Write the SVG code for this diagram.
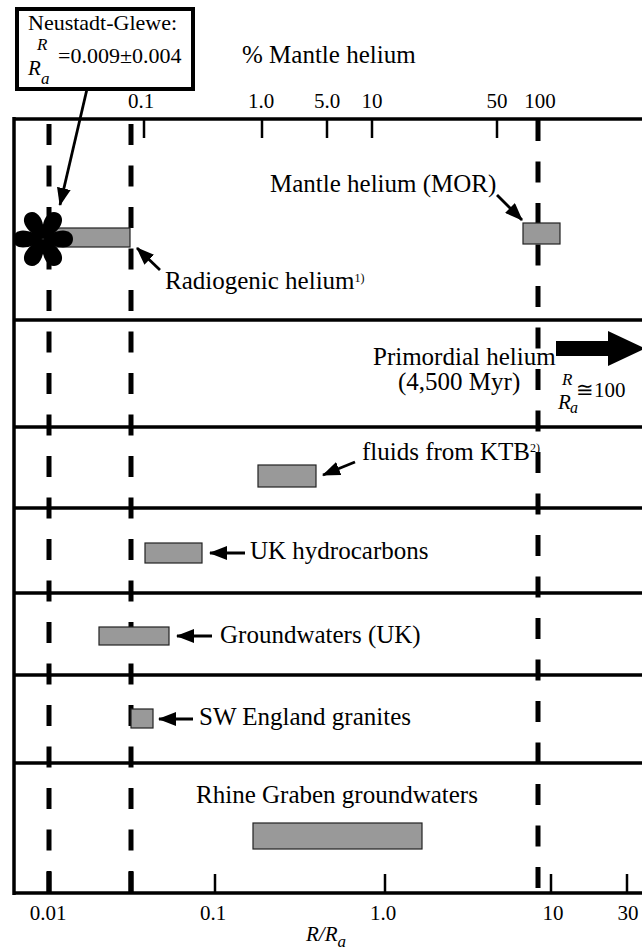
<svg xmlns="http://www.w3.org/2000/svg" width="642" height="951" viewBox="0 0 642 951" font-family="Liberation Serif, Times New Roman, DejaVu Serif, serif">
<style>
text{font-family:'Liberation Serif','DejaVu Serif',serif;fill:#000}
.lbl{font-size:25px}
.tk{font-size:21px;text-anchor:middle}
.it{font-style:italic}
.row{stroke:#000;stroke-width:3.5}
.tick{stroke:#000;stroke-width:2.5}
.dash{stroke:#000;stroke-width:5;stroke-dasharray:21 20.5;fill:none}
.bar{fill:#999;stroke:#222;stroke-width:1.2}
.arr{stroke:#000;stroke-width:2.8;fill:none;marker-end:url(#ah)}
</style>
<defs>
<marker id="ah" markerUnits="userSpaceOnUse" markerWidth="18" markerHeight="14" refX="17" refY="7" orient="auto">
<path d="M0,0 L18,7 L0,14 z" fill="#000"/>
</marker>
<path id="petal" d="M0,0 C6,-5 13,-8.5 20,-8.5 C26,-8.5 30,-5 30,0 C30,5 26,8.5 20,8.5 C13,8.5 6,5 0,0 Z" fill="#000"/>
</defs>

<g id="axes">
<line class="row" x1="14" y1="119" x2="642" y2="119"/>
<line class="row" x1="14" y1="893" x2="642" y2="893"/>
<line class="row" x1="14" y1="117" x2="14" y2="895"/>
<line class="tick" x1="144" y1="119" x2="144" y2="138"/>
<line class="tick" x1="262" y1="119" x2="262" y2="138"/>
<line class="tick" x1="327" y1="119" x2="327" y2="138"/>
<line class="tick" x1="372" y1="119" x2="372" y2="138"/>
<line class="tick" x1="497" y1="119" x2="497" y2="138"/>
<line class="tick" x1="215" y1="893" x2="215" y2="874"/>
<line class="tick" x1="385" y1="893" x2="385" y2="874"/>
<line class="tick" x1="551" y1="893" x2="551" y2="874"/>
<line class="tick" x1="627" y1="893" x2="627" y2="874"/>
<line stroke="#000" stroke-width="5" x1="49" y1="893" x2="49" y2="872"/>
<line stroke="#000" stroke-width="5" x1="131" y1="893" x2="131" y2="872"/>
<text x="242" y="63" style="font-size:25px">% Mantle helium</text>
<text class="tk" x="141" y="108">0.1</text>
<text class="tk" x="261" y="108">1.0</text>
<text class="tk" x="327" y="108">5.0</text>
<text class="tk" x="372" y="108">10</text>
<text class="tk" x="497" y="108">50</text>
<text class="tk" x="540" y="108">100</text>
<text class="tk" x="48" y="920">0.01</text>
<text class="tk" x="213" y="920">0.1</text>
<text class="tk" x="383" y="920">1.0</text>
<text class="tk" x="553" y="920">10</text>
<text class="tk" x="628" y="920">30</text>
<text class="it" x="306" y="941" style="font-size:21px">R/R<tspan dy="6" style="font-size:17px">a</tspan></text>
</g>

<g id="rows">
<line class="row" x1="14" y1="320" x2="642" y2="320"/>
<line class="row" x1="14" y1="427" x2="642" y2="427"/>
<line class="row" x1="14" y1="508" x2="642" y2="508"/>
<line class="row" x1="14" y1="593" x2="642" y2="593"/>
<line class="row" x1="14" y1="675" x2="642" y2="675"/>
<line class="row" x1="14" y1="763" x2="642" y2="763"/>
</g>

<g id="guides">
<line class="dash" x1="49" y1="124" x2="49" y2="893"/>
<line class="dash" x1="131" y1="124" x2="131" y2="893"/>
<line class="dash" x1="538" y1="120" x2="538" y2="893"/>
</g>

<g id="radiogenic">
<rect class="bar" x="45" y="228" width="85" height="19"/>
<text class="lbl" x="165" y="289">Radiogenic helium<tspan dy="-7" style="font-size:12px">1)</tspan></text>
</g>

<g id="neustadt">
<rect x="17" y="9" width="176" height="80" fill="#fff" stroke="#000" stroke-width="4"/>
<text x="28" y="30" style="font-size:22px">Neustadt-Glewe:</text>
<text class="it" x="37" y="50" style="font-size:17px">R</text>
<text class="it" x="28" y="75" style="font-size:21px">R</text>
<text class="it" x="41" y="84" style="font-size:17px">a</text>
<text x="58" y="63" style="font-size:22px">=0.009±0.004</text>
<g transform="translate(43,239)">
<use href="#petal"/>
<use href="#petal" transform="rotate(60)"/>
<use href="#petal" transform="rotate(120)"/>
<use href="#petal" transform="rotate(180)"/>
<use href="#petal" transform="rotate(240)"/>
<use href="#petal" transform="rotate(300)"/>
</g>
</g>

<g id="mor">
<rect class="bar" x="523" y="223" width="37" height="21"/>
<text class="lbl" x="270" y="192">Mantle helium (MOR)</text>
</g>

<g id="primordial">
<text class="lbl" x="373" y="365">Primordial helium</text>
<text class="lbl" x="398" y="390">(4,500 Myr)</text>
<path d="M556,341 H608 V331 L645,348.5 L608,366 V356 H556 Z" fill="#000"/>
<text class="it" x="562" y="385" style="font-size:17px">R</text>
<text class="it" x="558" y="409" style="font-size:21px">R</text>
<text class="it" x="570" y="413" style="font-size:16px">a</text>
<text x="576" y="397" style="font-size:21px">≅100</text>
</g>

<g id="ktb">
<rect class="bar" x="258" y="465" width="58" height="22"/>
<text class="lbl" x="362" y="460">fluids from KTB<tspan dy="-8" style="font-size:12px">2)</tspan></text>
</g>

<g id="ukhc">
<rect class="bar" x="145" y="543" width="57" height="20"/>
<text class="lbl" x="250" y="559">UK hydrocarbons</text>
</g>

<g id="gwuk">
<rect class="bar" x="99" y="627" width="70" height="18"/>
<text class="lbl" x="220" y="643">Groundwaters (UK)</text>
</g>

<g id="swe">
<rect class="bar" x="131" y="709" width="22" height="19"/>
<text class="lbl" x="199" y="725">SW England granites</text>
</g>

<g id="rhine">
<rect class="bar" x="253" y="823" width="169" height="26"/>
<text class="lbl" x="337" y="803" text-anchor="middle">Rhine Graben groundwaters</text>
</g>

<g id="connectors">
<line x1="87" y1="89" x2="60" y2="205" class="arr"/>
<line x1="160" y1="270" x2="137" y2="248" class="arr"/>
<line x1="497" y1="195" x2="522" y2="220" class="arr"/>
<line x1="355" y1="462" x2="323" y2="475" class="arr"/>
<line x1="245" y1="553" x2="210" y2="553" class="arr"/>
<line x1="212" y1="636" x2="177" y2="636" class="arr"/>
<line x1="193" y1="719" x2="159" y2="719" class="arr"/>
</g>
</svg>
